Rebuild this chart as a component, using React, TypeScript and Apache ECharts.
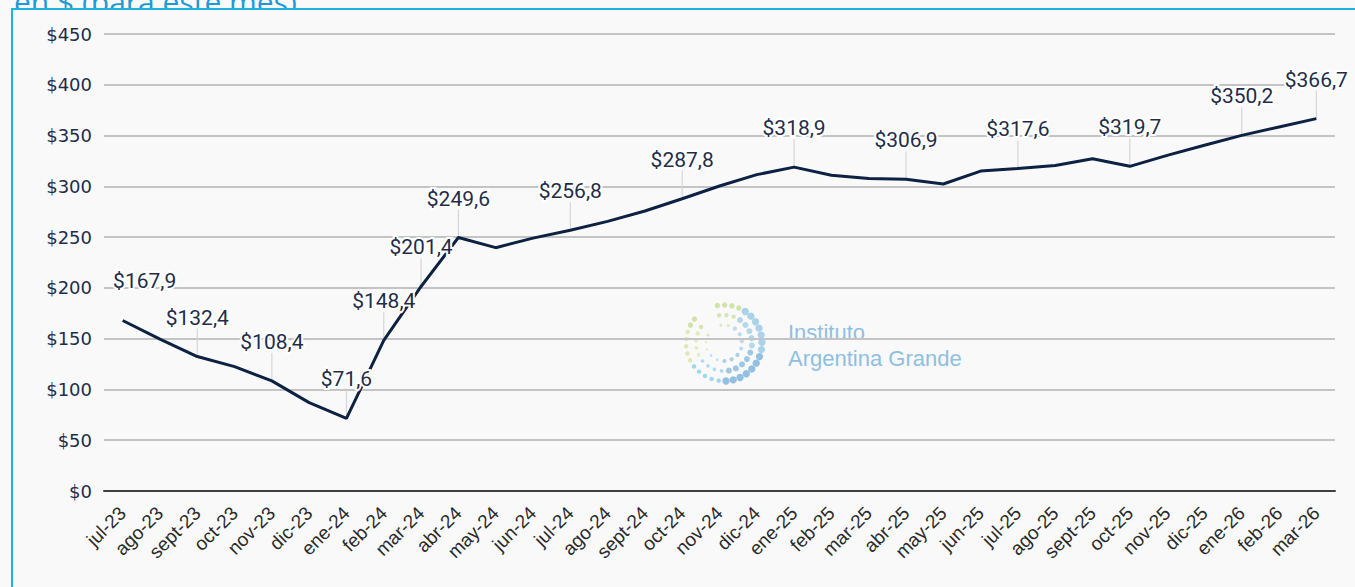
import React, { useEffect, useRef } from "react";
import * as echarts from "echarts";

const categories = [
  "jul-23", "ago-23", "sept-23", "oct-23", "nov-23", "dic-23",
  "ene-24", "feb-24", "mar-24", "abr-24", "may-24", "jun-24",
  "jul-24", "ago-24", "sept-24", "oct-24", "nov-24", "dic-24",
  "ene-25", "feb-25", "mar-25", "abr-25", "may-25", "jun-25",
  "jul-25", "ago-25", "sept-25", "oct-25", "nov-25", "dic-25",
  "ene-26", "feb-26", "mar-26",
];

const values = [
  167.9, 149.5, 132.4, 122.5, 108.4, 87.0,
  71.6, 148.4, 201.4, 249.6, 239.6, 249.0,
  256.8, 265.5, 275.7, 287.8, 300.3, 311.5,
  318.9, 311.0, 307.8, 306.9, 302.3, 315.0,
  317.6, 320.5, 327.2, 319.7, 330.5, 340.5,
  350.2, 358.5, 366.7,
];

const labeledMonths = [
  "jul-23", "sept-23", "nov-23", "ene-24", "feb-24", "mar-24", "abr-24",
  "jul-24", "oct-24", "ene-25", "abr-25", "jul-25", "oct-25", "ene-26", "mar-26",
];

const yTicks = { min: 0, max: 450, interval: 50 };

const fmt = (v: number) => "$" + v.toFixed(1).replace(".", ",");

export default function App() {
  const ref = useRef<HTMLDivElement>(null);

  useEffect(() => {
    if (!ref.current) return;
    const chart = echarts.init(ref.current, undefined, { renderer: "svg" });

    const labelData = labeledMonths.map((m) => {
      const i = categories.indexOf(m);
      return [i, values[i]];
    });

    // watermark logo dots
    const dots: any[] = [];
    const cx = 724, cy = 343;
    const rings = [
      { r: 38, n: 30, size: 3.2 },
      { r: 28, n: 22, size: 2.6 },
      { r: 18, n: 14, size: 1.8 },
    ];
    rings.forEach((ring, ri) => {
      for (let k = 0; k < ring.n; k++) {
        const t = k / ring.n;
        const ang = (-100 + t * 330) * Math.PI / 180;
        const x = cx + ring.r * Math.cos(ang);
        const y = cy + ring.r * Math.sin(ang);
        const deg = (-100 + t * 330 + 360) % 360;
        let color = "#7fb6df";
        if (deg > 200 && deg < 300) color = "#c9df9a";
        else if (deg > 150 && deg <= 200) color = "#d9e7a9";
        else if (deg > 90 && deg <= 150) color = "#8fd0ef";
        else if (deg >= 300 || deg < 20) color = "#9ccbe6";
        const s = ring.size * (deg < 90 || deg > 300 ? 1.15 : deg < 200 ? 0.7 : 0.85);
        dots.push({
          type: "circle",
          z: -10,
          shape: { cx: x, cy: y, r: s },
          style: { fill: color, opacity: 0.85 - ri * 0.1 },
          silent: true,
        });
      }
    });

    chart.setOption({
      animation: false,
      backgroundColor: "#f9f9f9",
      grid: { left: 104, right: 20, top: 34, bottom: 96, containLabel: false },
      graphic: [
        {
          type: "text",
          z: 98,
          x: 14,
          y: 16,
          style: {
            text: "en $ (para este mes)",
            fill: "#1e9ad8",
            font: "30px 'Open Sans'",
            verticalAlign: "bottom",
          },
        },
        {
          type: "rect",
          z: 99,
          shape: { x: 13, y: 10, width: 1400, height: 12 },
          style: { fill: "#f9f9f9" },
          silent: true,
        },
        {
          type: "rect",
          z: 100,
          shape: { x: 12, y: 9, width: 1400, height: 700 },
          style: { fill: "none", stroke: "#1fb3dc", lineWidth: 2 },
          silent: true,
        },
        ...dots,
        {
          type: "text",
          z: -10,
          x: 788,
          y: 332,
          style: {
            text: "Instituto",
            fill: "#8fc0e2",
            font: "22px 'Liberation Sans'",
            verticalAlign: "middle",
          },
        },
        {
          type: "text",
          z: -10,
          x: 788,
          y: 358,
          style: {
            text: "Argentina Grande",
            fill: "#8fc0e2",
            font: "22px 'Liberation Sans'",
            verticalAlign: "middle",
          },
        },
      ],
      xAxis: {
        type: "category",
        data: categories,
        boundaryGap: true,
        axisTick: { show: false },
        axisLine: { show: true, lineStyle: { color: "#404040", width: 2 } },
        axisLabel: {
          rotate: 45,
          interval: 0,
          margin: 19,
          fontSize: 19,
          fontFamily: "'Liberation Sans', Arial, sans-serif",
          color: "#2a2a2a",
        },
      },
      yAxis: {
        type: "value",
        min: yTicks.min,
        max: yTicks.max,
        interval: yTicks.interval,
        axisLine: { show: false },
        axisTick: { show: false },
        splitLine: { lineStyle: { color: "#c4c4c4", width: 2 } },
        axisLabel: {
          margin: 12,
          fontSize: 18,
          fontFamily: "'DejaVu Sans', sans-serif",
          color: "#1f2d4a",
          formatter: (v: number) => "$" + v,
        },
      },
      series: [
        {
          type: "custom",
          z: 1,
          silent: true,
          data: labelData,
          renderItem: (params: any, api: any) => {
            const p = api.coord([api.value(0), api.value(1)]);
            if (params.dataIndex === 0) return { type: "group", children: [] };
            return {
              type: "line",
              shape: { x1: p[0], y1: p[1], x2: p[0], y2: p[1] - 28 },
              style: { stroke: "#d6d6d6", lineWidth: 1.2 },
            };
          },
        },
        {
          type: "line",
          z: 2,
          data: values,
          symbol: "none",
          lineStyle: { color: "#0d2142", width: 3 },
        },
        {
          type: "custom",
          z: 3,
          silent: true,
          data: labelData,
          renderItem: (params: any, api: any) => {
            const v = api.value(1);
            const p = api.coord([api.value(0), v]);
            const dx = params.dataIndex === 0 ? 22 : 0;
            return {
              type: "text",
              x: p[0] + dx,
              y: p[1] - 39,
              style: {
                text: fmt(v),
                fill: "#1f2d4a",
                font: "21px Roboto",
                align: "center",
                verticalAlign: "middle",
                stroke: "#ffffff",
                lineWidth: 4,
              },
            };
          },
        },
      ],
    });

    return () => chart.dispose();
  }, []);

  return (
    <div
      ref={ref}
      style={{ position: "fixed", left: 0, top: 0, width: 1355, height: 587 }}
    />
  );
}
